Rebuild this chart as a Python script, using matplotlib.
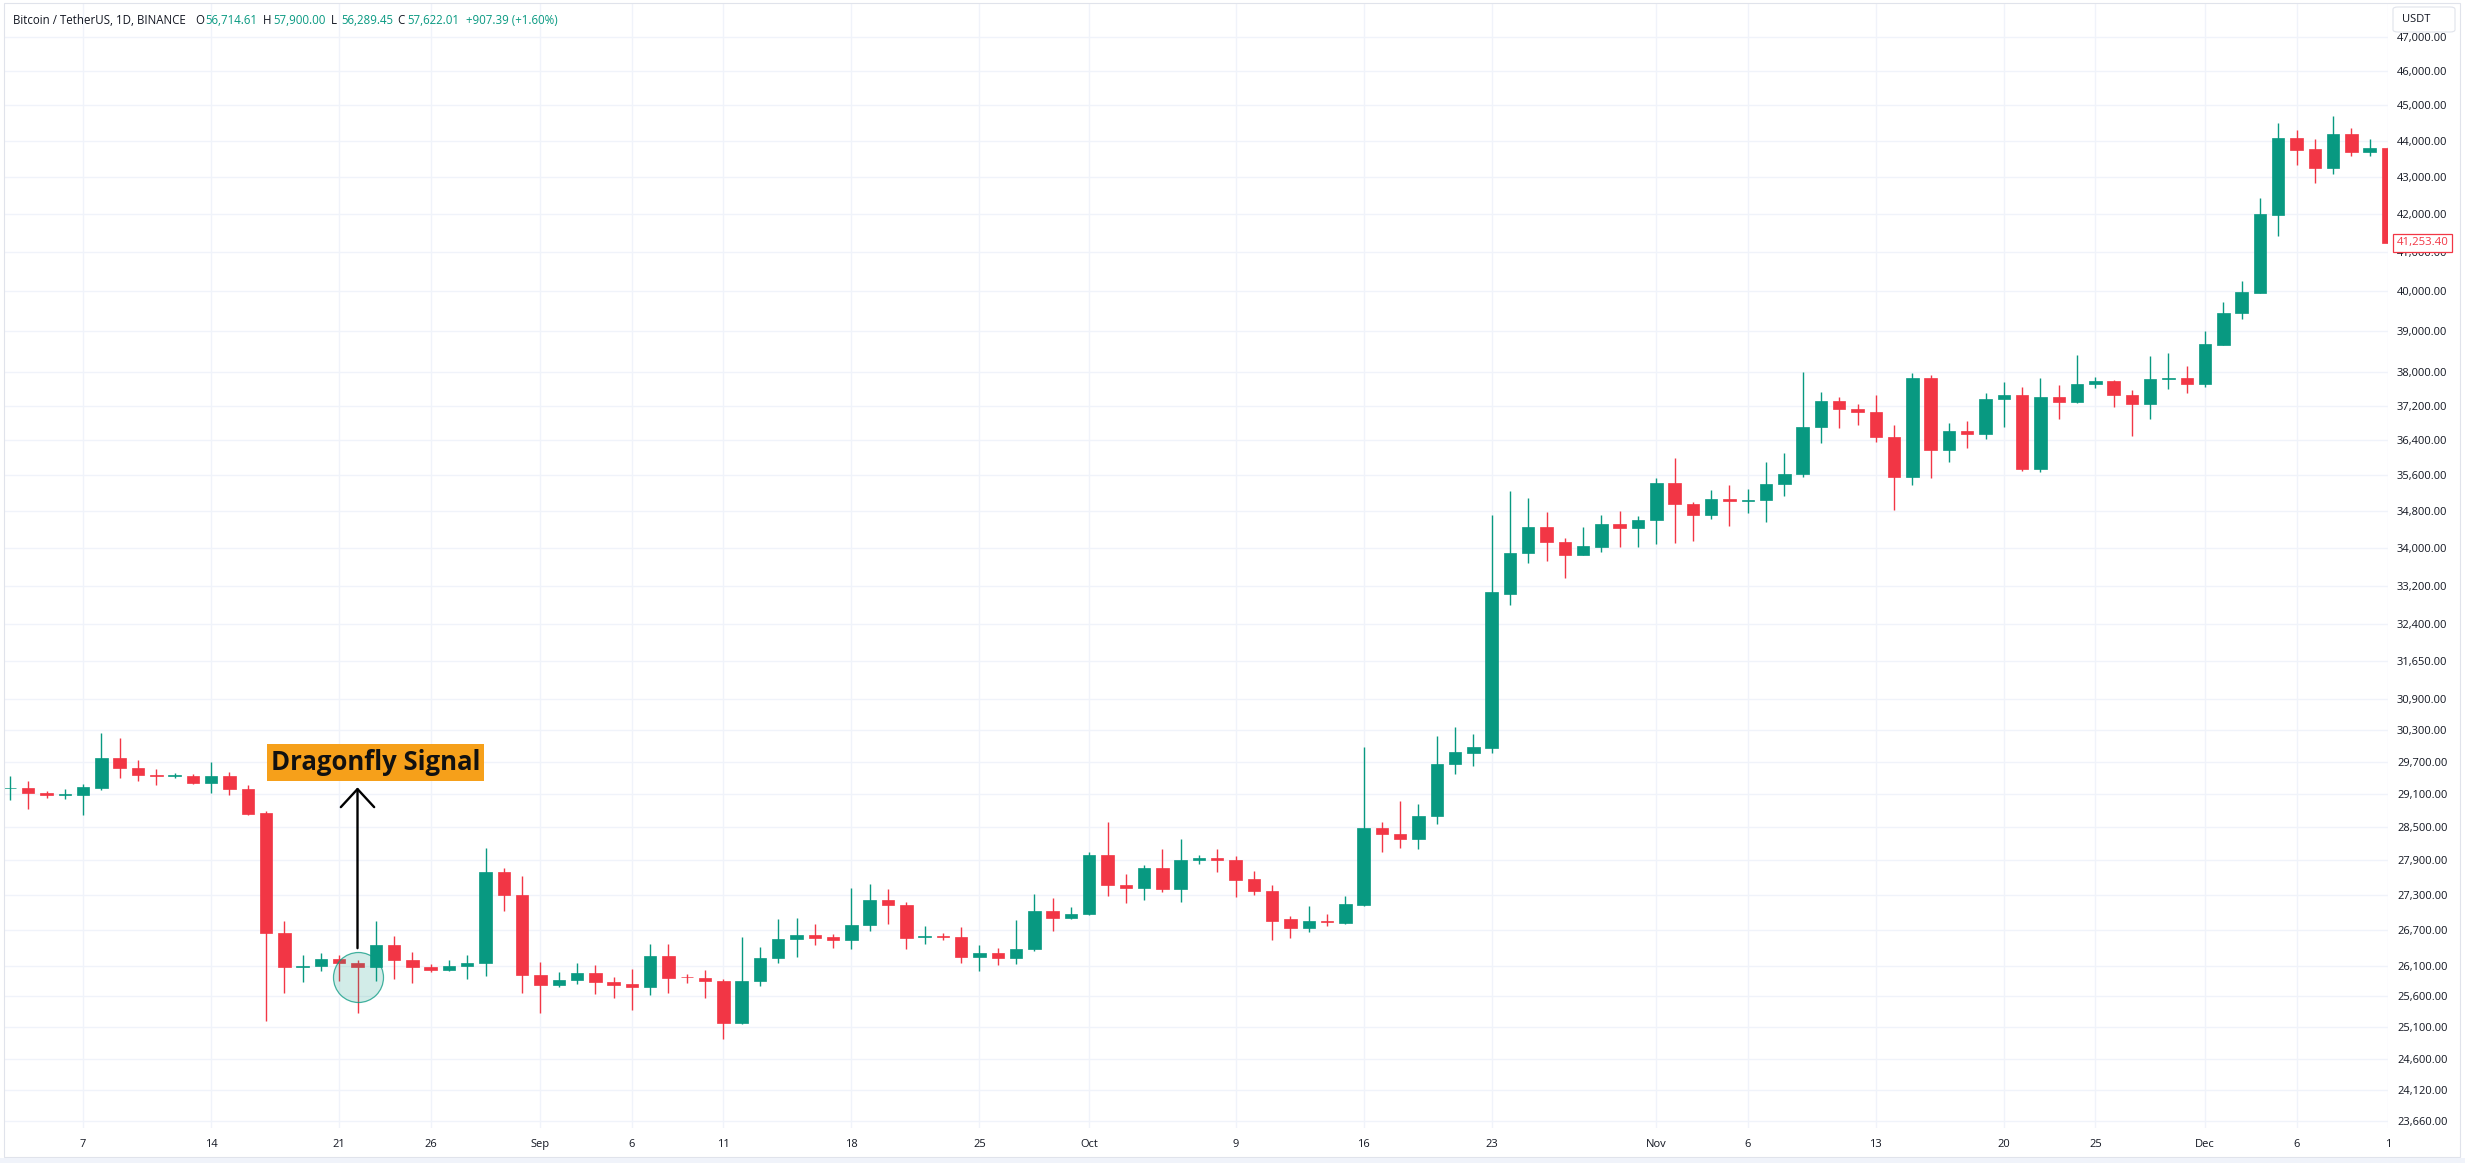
import numpy as np
import pandas as pd
import matplotlib
matplotlib.use("Agg")
import matplotlib.pyplot as plt
from matplotlib.patches import Rectangle, FancyBboxPatch
from matplotlib.ticker import FixedLocator, NullLocator, FuncFormatter, NullFormatter
from matplotlib.transforms import blended_transform_factory

plt.rcParams['font.family'] = ['Open Sans', 'DejaVu Sans']

# ---------------- data ----------------
start_date = "2023-08-03"
end_date = "2023-12-11"

opens = [
    # Aug 3 - Aug 31
    29200, 29205, 29118, 29082, 29082, 29205, 29773, 29584, 29452, 29426,
    29433, 29303, 29433, 29192, 28746, 26645, 26070, 26100, 26215, 26145,
    26070, 26444, 26193, 26080, 26025, 26100, 26150, 27700, 27290,
    # Sep
    25945, 25788, 25860, 25983, 25830, 25800, 25755, 26267, 25915, 25900,
    25845, 25162, 25845, 26233, 26536, 26604, 26575, 26525, 26774, 27214,
    27130, 26575, 26590, 26580, 26240, 26318, 26225, 26370, 27026, 26900,
    # Oct
    26965, 27990, 27467, 27411, 27770, 27390, 27909, 27944, 27909, 27576,
    27370, 26874, 26733, 26854, 26814, 27126, 28481, 28374, 28282, 28690,
    29652, 29869, 29966, 33030, 33886, 34460, 34141, 33861, 34032, 34512,
    34426,
    # Nov
    34616, 35440, 34955, 34726, 35082, 35018, 35042, 35400, 35633, 36700,
    37322, 37138, 37070, 36480, 35560, 37875, 36167, 36612, 36554, 37365,
    37466, 35737, 37415, 37289, 37712, 37789, 37466, 37238, 37832, 37875,
    # Dec
    37729, 38671, 39449, 39969, 41992, 44084, 43776, 43254, 44194, 43697,
    43790,
]
highs = [
    29439, 29334, 29150, 29192, 29285, 30250, 30150, 29737, 29564, 29490,
    29471, 29687, 29502, 29266, 28790, 26848, 26280, 26307, 26280, 26200,
    26840, 26600, 26325, 26120, 26200, 26280, 28125, 27760, 27630,
    26166, 25990, 26140, 26110, 25915, 26040, 26452, 26452, 25970, 26030,
    25880, 26573, 26418, 26877, 26900, 26795, 26632, 27421, 27483, 27390,
    27170, 26757, 26640, 26745, 26445, 26390, 26860, 27310, 27243, 27095,
    28045, 28580, 27666, 27826, 28106, 28282, 28000, 28092, 27979, 27715,
    27467, 26935, 27112, 26975, 27274, 29981, 28588, 28977, 28905, 30184,
    30358, 30222, 34728, 35254, 35104, 34790, 34210, 34452, 34720, 34816,
    34703,
    35540, 36004, 35000, 35280, 35392, 35296, 35899, 36119, 38003, 37534,
    37415, 37238, 37449, 36761, 37986, 37943, 36803, 36844, 37517, 37772,
    37644, 37875, 37687, 38418, 37892, 37814, 37585, 38392, 38479, 38158,
    39004, 39726, 40260, 42430, 44495, 44294, 44045, 44697, 44365, 44045,
    43820,
]
lows = [
    28990, 28825, 29030, 28996, 28717, 29174, 29396, 29346, 29266, 29389,
    29285, 29112, 29082, 28720, 25195, 25651, 25832, 26006, 25843, 25330,
    25843, 25880, 25815, 26000, 26010, 25880, 25935, 27020, 25655,
    25335, 25755, 25805, 25640, 25575, 25383, 25625, 25650, 25808, 25575,
    24914, 25150, 25770, 26140, 26240, 26440, 26390, 26375, 26680, 26790,
    26375, 26460, 26530, 26140, 26005, 26110, 26130, 26350, 26680, 26890,
    26955, 27280, 27152, 27207, 27342, 27172, 27840, 27687, 27253, 27288,
    26533, 26553, 26666, 26766, 26800, 27105, 28056, 28127, 28092, 28553,
    29460, 29622, 29868, 32800, 33674, 33725, 33364, 33844, 33912, 34032,
    34015,
    34083, 34104, 34142, 34624, 34468, 34758, 34562, 35137, 35560, 36348,
    36695, 36745, 36364, 34820, 35376, 35536, 35899, 36225, 36430, 36720,
    35700, 35681, 36886, 37264, 37636, 37180, 36497, 36886, 37602, 37517,
    37644, 38654, 39297, 39969, 41436, 43332, 42845, 43098, 43579, 43589,
    41253.40,
]
closes = [
    29210, 29112, 29082, 29092, 29217, 29773, 29578, 29452, 29426, 29445,
    29303, 29433, 29192, 28736, 26640, 26070, 26100, 26210, 26140, 26070,
    26444, 26193, 26070, 26027, 26100, 26150, 27700, 27290, 25943,
    25788, 25860, 25983, 25830, 25788, 25755, 26267, 25904, 25905, 25840,
    25162, 25845, 26233, 26536, 26604, 26560, 26525, 26774, 27214, 27118,
    26560, 26590, 26580, 26240, 26318, 26225, 26380, 27026, 26900, 26975,
    27990, 27470, 27411, 27770, 27390, 27909, 27944, 27909, 27562, 27356,
    26854, 26733, 26854, 26827, 27146, 28481, 28367, 28282, 28703, 29660,
    29884, 29981, 33057, 33903, 34460, 34124, 33861, 34049, 34512, 34426,
    34616,
    35440, 34955, 34726, 35082, 35018, 35058, 35416, 35641, 36720, 37322,
    37138, 37070, 36472, 35560, 37875, 36167, 36612, 36554, 37373, 37466,
    35737, 37415, 37306, 37729, 37789, 37449, 37238, 37840, 37875, 37729,
    38697, 39467, 39987, 42001, 44084, 43746, 43254, 44194, 43687, 43816,
    41253.40,
]

y_ticks = [23660, 24120, 24600, 25100, 25600, 26100, 26700, 27300, 27900,
           28500, 29100, 29700, 30300, 30900, 31650, 32400, 33200, 34000,
           34800, 35600, 36400, 37200, 38000, 39000, 40000, 41000, 42000,
           43000, 44000, 45000, 46000, 47000]

x_tick_dates = ["2023-08-07", "2023-08-14", "2023-08-21", "2023-08-26",
                "2023-09-01", "2023-09-06", "2023-09-11", "2023-09-18",
                "2023-09-25", "2023-10-01", "2023-10-09", "2023-10-16",
                "2023-10-23", "2023-11-01", "2023-11-06", "2023-11-13",
                "2023-11-20", "2023-11-25", "2023-12-01", "2023-12-06",
                "2023-12-11"]
x_tick_labels = ["7", "14", "21", "26", "Sep", "6", "11", "18", "25", "Oct",
                 "9", "16", "23", "Nov", "6", "13", "20", "25", "Dec", "6", "1"]

header_title = "Bitcoin / TetherUS, 1D, BINANCE"
header_ohlc = [("O", "56,714.61"), ("H", "57,900.00"), ("L", "56,289.45"),
               ("C", "57,622.01")]
header_change = "+907.39 (+1.60%)"
signal_date = "2023-08-22"
signal_text = "Dragonfly Signal"

# ---------------- style ----------------
GREEN = "#089981"
RED = "#F23645"
TEXT = "#131722"
GRID = "#F0F3FA"

W, H = 2465, 1163
fig = plt.figure(figsize=(W / 100, H / 100), dpi=100)
fig.patch.set_facecolor("white")


def fx(px):
    return px / W


def fy(py):
    return 1 - py / H


ax = fig.add_axes([fx(5), fy(1128), fx(2388) - fx(5), fy(3) - fy(1128)])
ax.set_facecolor("white")

dates = pd.date_range(start_date, end_date, freq="D")
xs = np.arange(len(dates))
o = np.array(opens, float)
h = np.array(highs, float)
l = np.array(lows, float)
c = np.array(closes, float)
cols = np.where(c >= o, GREEN, RED)

ax.set_yscale("log")
ax.vlines(xs, l, h, colors=cols, linewidth=1.0, zorder=3)
bb = np.minimum(o, c)
bt = np.maximum(o, c)
ax.bar(xs, bt - bb, bottom=bb, width=0.68, color=cols, edgecolor=cols,
       linewidth=0.5, zorder=4)

ax.set_xlim(-0.27, 129.87)
ax.set_ylim(23550, 48015)

ax.yaxis.set_major_locator(FixedLocator(y_ticks))
ax.yaxis.set_minor_locator(NullLocator())
ax.yaxis.set_minor_formatter(NullFormatter())
ax.yaxis.set_major_formatter(FuncFormatter(lambda v, p: f"{v:,.2f}"))
ax.yaxis.tick_right()
ax.tick_params(axis="y", length=0, pad=6.5, labelsize=8, labelcolor=TEXT)

date_index = {d.strftime("%Y-%m-%d"): i for i, d in enumerate(dates)}
ax.set_xticks([date_index[d] for d in x_tick_dates])
ax.set_xticklabels(x_tick_labels)
ax.tick_params(axis="x", length=0, pad=8, labelsize=8, labelcolor=TEXT)

ax.grid(True, color=GRID, linewidth=1.0)
ax.set_axisbelow(True)
for s in ax.spines.values():
    s.set_visible(False)

# ---------------- annotation ----------------
sig = date_index[signal_date]
ax.scatter([sig], [25915], s=1296, facecolor=(8 / 255, 153 / 255, 129 / 255, 0.18),
           edgecolor=(8 / 255, 153 / 255, 129 / 255, 0.75), linewidth=0.9, zorder=5)
ax.annotate("", xy=(sig, 29220), xytext=(sig, 26390),
            arrowprops=dict(arrowstyle="->,head_length=1.3,head_width=1.2",
                            lw=1.7, color="black", shrinkA=0, shrinkB=0,
                            mutation_scale=10), zorder=6)
box_lo, box_hi = 29340, 30030
ax.add_patch(Rectangle((sig - 4.95, box_lo), 11.89, box_hi - box_lo,
                       facecolor="#F6A01A", edgecolor="none", zorder=6))
ax.text(sig + 1.0, np.sqrt(box_lo * box_hi), signal_text, ha="center", va="center",
        fontsize=18.5, fontweight="bold", color="#111111", zorder=7)

# last price label
tr = blended_transform_factory(ax.transAxes, ax.transData)
ax.text(1.0035, c[-1], f"{c[-1]:,.2f}", transform=tr, ha="left", va="center",
        fontsize=8.2, color=RED, clip_on=False, zorder=10,
        bbox=dict(boxstyle="square,pad=0.3", fc="white", ec=RED, lw=0.9))

# ---------------- header / frame ----------------
HFS = 8.3
fig.text(fx(13), fy(20), header_title, ha="left", va="center", fontsize=HFS, color=TEXT)
hx = [195, 263, 331, 397]
for (k, v), px in zip(header_ohlc, hx):
    fig.text(fx(px), fy(20), k, ha="left", va="center", fontsize=HFS, color=TEXT)
    fig.text(fx(px + 10), fy(20), v, ha="left", va="center", fontsize=HFS, color=GREEN)
fig.text(fx(466), fy(20), header_change, ha="left", va="center", fontsize=HFS, color=GREEN)

fig.patches.append(FancyBboxPatch((fx(2393), fy(32)), fx(62), 25 / H,
                                  boxstyle="round,pad=0,rounding_size=0.002",
                                  transform=fig.transFigure, facecolor="white",
                                  edgecolor="#E0E3EB", linewidth=0.8, zorder=10))
fig.text(fx(2402), fy(19.5), "USDT", ha="left", va="center", fontsize=8,
         color=TEXT, zorder=11)

fig.patches.append(Rectangle((fx(4), fy(1157)), fx(2460) - fx(4), fy(3) - fy(1157),
                             transform=fig.transFigure, facecolor="none",
                             edgecolor="#E0E3EB", linewidth=0.8, zorder=0))
fig.patches.append(Rectangle((0, 0), 1, 5 / H, transform=fig.transFigure,
                             facecolor="#F0F3FA", edgecolor="none", zorder=0))

fig.savefig("out.png", dpi=100, facecolor=fig.get_facecolor())
